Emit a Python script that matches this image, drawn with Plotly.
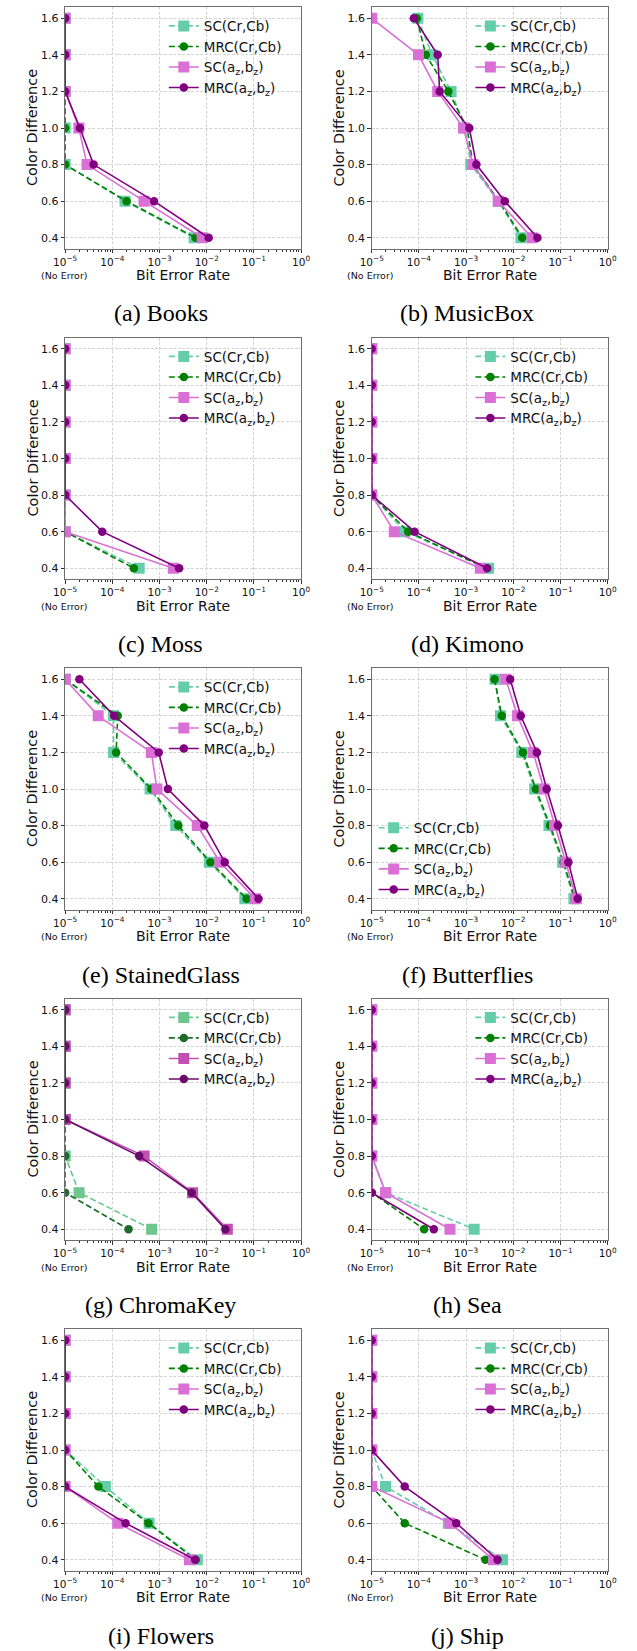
import plotly.graph_objects as go

# Colour difference levels (y values shared by every panel)
CDIFF = [1.6, 1.4, 1.2, 1.0, 0.8, 0.6, 0.4]

# Bit error rates, 1e-5 stands for "no error"
BOOKS_SC_CRCB = [1e-5, 1e-5, 1e-5, 1e-5, 1e-5, 1.85e-4, 5.4e-3]
BOOKS_MRC_CRCB = [1e-5, 1e-5, 1e-5, 1e-5, 1e-5, 2.0e-4, 5.8e-3]
BOOKS_SC_AZBZ = [1e-5, 1e-5, 1e-5, 1.95e-5, 2.9e-5, 4.7e-4, 8.0e-3]
BOOKS_MRC_AZBZ = [1e-5, 1e-5, 1e-5, 2.05e-5, 4.0e-5, 7.6e-4, 1.1e-2]

MUSICBOX_SC_CRCB = [9.5e-5, 1.9e-4, 4.8e-4, 9.5e-4, 1.25e-3, 4.8e-3, 1.45e-2]
MUSICBOX_MRC_CRCB = [9.0e-5, 1.4e-4, 4.2e-4, 1.05e-3, 1.4e-3, 5.0e-3, 1.55e-2]
MUSICBOX_SC_AZBZ = [1e-5, 9.8e-5, 2.5e-4, 8.8e-4, 1.4e-3, 4.8e-3, 2.5e-2]
MUSICBOX_MRC_AZBZ = [7.8e-5, 2.5e-4, 2.75e-4, 1.17e-3, 1.65e-3, 6.6e-3, 3.25e-2]

MOSS_SC_CRCB = [1e-5, 1e-5, 1e-5, 1e-5, 1e-5, 1e-5, 3.7e-4]
MOSS_MRC_CRCB = [1e-5, 1e-5, 1e-5, 1e-5, 1e-5, 1e-5, 2.85e-4]
MOSS_SC_AZBZ = [1e-5, 1e-5, 1e-5, 1e-5, 1e-5, 1e-5, 1.95e-3]
MOSS_MRC_AZBZ = [1e-5, 1e-5, 1e-5, 1e-5, 1e-5, 6.1e-5, 2.6e-3]

KIMONO_SC_CRCB = [1e-5, 1e-5, 1e-5, 1e-5, 1e-5, 5.0e-5, 3.0e-3]
KIMONO_MRC_CRCB = [1e-5, 1e-5, 1e-5, 1e-5, 1e-5, 5.9e-5, 2.6e-3]
KIMONO_SC_AZBZ = [1e-5, 1e-5, 1e-5, 1e-5, 1e-5, 3.0e-5, 2.0e-3]
KIMONO_MRC_AZBZ = [1e-5, 1e-5, 1e-5, 1e-5, 1e-5, 8.1e-5, 2.8e-3]

STAINED_SC_CRCB = [1e-5, 1.06e-4, 1.06e-4, 6.3e-4, 2.2e-3, 1.13e-2, 6.4e-2]
STAINED_MRC_CRCB = [1e-5, 1.3e-4, 1.2e-4, 6.7e-4, 2.5e-3, 1.2e-2, 7.0e-2]
STAINED_SC_AZBZ = [1e-5, 5.0e-5, 6.7e-4, 8.8e-4, 6.3e-3, 1.9e-2, 1.07e-1]
STAINED_MRC_AZBZ = [2.0e-5, 1.09e-4, 9.6e-4, 1.5e-3, 8.9e-3, 2.4e-2, 1.25e-1]

BUTTERFLIES_SC_CRCB = [4.1e-3, 5.35e-3, 1.51e-2, 2.83e-2, 5.7e-2, 1.11e-1, 1.92e-1]
BUTTERFLIES_MRC_CRCB = [4.0e-3, 5.7e-3, 1.6e-2, 3.0e-2, 6.0e-2, 1.16e-1, 2.0e-1]
BUTTERFLIES_SC_AZBZ = [6.9e-3, 1.23e-2, 2.62e-2, 4.5e-2, 7.5e-2, 1.3e-1, 2.15e-1]
BUTTERFLIES_MRC_AZBZ = [8.6e-3, 1.44e-2, 3.16e-2, 5.1e-2, 8.8e-2, 1.47e-1, 2.32e-1]

CHROMA_SC_CRCB = [1e-5, 1e-5, 1e-5, 1e-5, 1e-5, 1.97e-5, 6.8e-4]
CHROMA_MRC_CRCB = [1e-5, 1e-5, 1e-5, 1e-5, 1e-5, 1e-5, 2.2e-4]
CHROMA_SC_AZBZ = [1e-5, 1e-5, 1e-5, 1e-5, 4.7e-4, 5.0e-3, 2.73e-2]
CHROMA_MRC_AZBZ = [1e-5, 1e-5, 1e-5, 1e-5, 3.7e-4, 4.8e-3, 2.48e-2]

SEA_SC_CRCB = [1e-5, 1e-5, 1e-5, 1e-5, 1e-5, 2.0e-5, 1.48e-3]
SEA_MRC_CRCB = [1e-5, 1e-5, 1e-5, 1e-5, 1e-5, 1e-5, 1.29e-4]
SEA_SC_AZBZ = [1e-5, 1e-5, 1e-5, 1e-5, 1e-5, 1.96e-5, 4.55e-4]
SEA_MRC_AZBZ = [1e-5, 1e-5, 1e-5, 1e-5, 1e-5, 1e-5, 2.07e-4]

FLOWERS_SC_CRCB = [1e-5, 1e-5, 1e-5, 1e-5, 7.1e-5, 6.0e-4, 6.3e-3]
FLOWERS_MRC_CRCB = [1e-5, 1e-5, 1e-5, 1e-5, 5.05e-5, 5.8e-4, 5.8e-3]
FLOWERS_SC_AZBZ = [1e-5, 1e-5, 1e-5, 1e-5, 1e-5, 1.3e-4, 4.3e-3]
FLOWERS_MRC_AZBZ = [1e-5, 1e-5, 1e-5, 1e-5, 1e-5, 1.9e-4, 5.7e-3]

SHIP_SC_CRCB = [1e-5, 1e-5, 1e-5, 1e-5, 1.96e-5, 4.2e-4, 5.9e-3]
SHIP_MRC_CRCB = [1e-5, 1e-5, 1e-5, 1e-5, 1e-5, 5.0e-5, 2.56e-3]
SHIP_SC_AZBZ = [1e-5, 1e-5, 1e-5, 1e-5, 1e-5, 4.55e-4, 3.8e-3]
SHIP_MRC_AZBZ = [1e-5, 1e-5, 1e-5, 1e-5, 5.0e-5, 6.2e-4, 4.65e-3]

PANEL_LETTERS = ["a", "b", "c", "d", "e", "f", "g", "h", "i", "j"]
IMAGE_NAMES = ["Books", "MusicBox", "Moss", "Kimono", "StainedGlass",
               "Butterflies", "ChromaKey", "Sea", "Flowers", "Ship"]
PANEL_DATA = [
    (BOOKS_SC_CRCB, BOOKS_MRC_CRCB, BOOKS_SC_AZBZ, BOOKS_MRC_AZBZ),
    (MUSICBOX_SC_CRCB, MUSICBOX_MRC_CRCB, MUSICBOX_SC_AZBZ, MUSICBOX_MRC_AZBZ),
    (MOSS_SC_CRCB, MOSS_MRC_CRCB, MOSS_SC_AZBZ, MOSS_MRC_AZBZ),
    (KIMONO_SC_CRCB, KIMONO_MRC_CRCB, KIMONO_SC_AZBZ, KIMONO_MRC_AZBZ),
    (STAINED_SC_CRCB, STAINED_MRC_CRCB, STAINED_SC_AZBZ, STAINED_MRC_AZBZ),
    (BUTTERFLIES_SC_CRCB, BUTTERFLIES_MRC_CRCB, BUTTERFLIES_SC_AZBZ, BUTTERFLIES_MRC_AZBZ),
    (CHROMA_SC_CRCB, CHROMA_MRC_CRCB, CHROMA_SC_AZBZ, CHROMA_MRC_AZBZ),
    (SEA_SC_CRCB, SEA_MRC_CRCB, SEA_SC_AZBZ, SEA_MRC_AZBZ),
    (FLOWERS_SC_CRCB, FLOWERS_MRC_CRCB, FLOWERS_SC_AZBZ, FLOWERS_MRC_AZBZ),
    (SHIP_SC_CRCB, SHIP_MRC_CRCB, SHIP_SC_AZBZ, SHIP_MRC_AZBZ),
]

SERIES_NAMES = ["SC(Cr,Cb)", "MRC(Cr,Cb)",
                "SC(a<sub>z</sub>,b<sub>z</sub>)", "MRC(a<sub>z</sub>,b<sub>z</sub>)"]
X_TICK_VALS = [1e-5, 1e-4, 1e-3, 1e-2, 1e-1, 1e0]
X_TICK_TEXT = ["10<sup>\u22125</sup>", "10<sup>\u22124</sup>", "10<sup>\u22123</sup>",
               "10<sup>\u22122</sup>", "10<sup>\u22121</sup>", "10<sup>0</sup>"]
Y_TICK_TEXT = ["1.6", "1.4", "1.2", "1.0", "0.8", "0.6", "0.4"]

# styling
COLORS_DEFAULT = ["#66cdaa", "#008000", "#da70d6", "#800080"]
COLORS_CHROMA = ["#6cc68d", "#1b6b2b", "#c24fb2", "#6a0a6a"]
SYMBOLS = ["square", "circle", "square", "circle"]
MARKER_SIZES = [11, 8.5, 11, 8.5]
DASHES = ["6px,3px", "6px,3px", "solid", "solid"]

W, H = 637, 1651
COL_DX = 317.0
ROW_DY = 330.5
PLOT_L, PLOT_R = 55.0, 299.0
PLOT_T, PLOT_B = 7.3, 248.7

XTICK_FONT = dict(family="DejaVu Sans", size=10.5, color="#111111")
YTICK_FONT = dict(family="DejaVu Sans", size=11, color="#111111")
TITLE_FONT = "DejaVu Sans"

minor_vals = [m * 10.0 ** e for e in range(-5, 0) for m in range(2, 10)]

fig = go.Figure()
annotations = []
layout_updates = {}

for i in range(10):
    row, col = divmod(i, 2)
    ox, oy = col * COL_DX, row * ROW_DY
    idx = "" if i == 0 else str(i + 1)
    xa, ya = "x" + idx, "y" + idx
    leg = "legend" + idx
    colors = COLORS_CHROMA if IMAGE_NAMES[i] == "ChromaKey" else COLORS_DEFAULT

    for s in range(4):
        fig.add_trace(go.Scatter(
            x=PANEL_DATA[i][s], y=CDIFF, name=SERIES_NAMES[s],
            mode="lines+markers", xaxis=xa, yaxis=ya, legend=leg,
            line=dict(color=colors[s], width=1.6, dash=DASHES[s]),
            marker=dict(symbol=SYMBOLS[s], size=MARKER_SIZES[s], color=colors[s],
                        line=dict(width=0)),
            cliponaxis=True,
        ))

    layout_updates["xaxis" + idx] = dict(
        type="log", range=[-5, 0], domain=[(PLOT_L + ox) / W, (PLOT_R + ox) / W],
        anchor=ya, tickmode="array", tickvals=X_TICK_VALS, ticktext=X_TICK_TEXT,
        ticks="outside", ticklen=3.5, tickwidth=0.9, tickcolor="#333333",
        tickfont=XTICK_FONT, showline=True, mirror=True, linecolor="#6e6e6e",
        linewidth=1, showgrid=True, gridcolor="#d4d4d4", gridwidth=0.8,
        griddash="3px,1.5px", zeroline=False,
        minor=dict(tickmode="array", tickvals=minor_vals, ticks="outside",
                   ticklen=2, tickwidth=0.7, tickcolor="#333333", showgrid=False),
    )
    layout_updates["yaxis" + idx] = dict(
        range=[0.34, 1.66],
        domain=[1 - (PLOT_B + oy) / H, 1 - (PLOT_T + oy) / H],
        anchor=xa, tickmode="array", tickvals=CDIFF, ticktext=Y_TICK_TEXT,
        ticks="outside", ticklen=3.5, tickwidth=0.9, tickcolor="#333333",
        tickfont=YTICK_FONT, showline=True, mirror=True, linecolor="#6e6e6e",
        linewidth=1, showgrid=True, gridcolor="#d4d4d4", gridwidth=0.8,
        griddash="3px,1.5px", zeroline=False,
    )

    if IMAGE_NAMES[i] == "Butterflies":
        leg_x, leg_y = 374 - COL_DX + ox, 812.5 - 2 * ROW_DY + oy
    else:
        leg_x, leg_y = 157 + ox, 10.6 + oy
    layout_updates[leg] = dict(
        x=leg_x / W, y=1 - leg_y / H, xanchor="left", yanchor="top",
        bgcolor="rgba(0,0,0,0)", borderwidth=0,
        font=dict(family=TITLE_FONT, size=13.5, color="#111111"),
        tracegroupgap=0,
    )

    # axis titles, no-error note and panel caption
    annotations.append(dict(
        text="Color Difference", textangle=-90, x=(20.7 + ox) / W, y=1 - (128 + oy) / H,
        xref="paper", yref="paper", showarrow=False, xanchor="center", yanchor="middle",
        font=dict(family=TITLE_FONT, size=14.5, color="#111111")))
    annotations.append(dict(
        text="Bit Error Rate", x=(177 + ox) / W, y=1 - (275 + oy) / H,
        xref="paper", yref="paper", showarrow=False, xanchor="center", yanchor="middle",
        font=dict(family=TITLE_FONT, size=14, color="#111111")))
    annotations.append(dict(
        text="(No Error)", x=(54.2 + ox) / W, y=1 - (275.8 + oy) / H,
        xref="paper", yref="paper", showarrow=False, xanchor="center", yanchor="middle",
        font=dict(family=TITLE_FONT, size=9.5, color="#111111")))
    annotations.append(dict(
        text=f"({PANEL_LETTERS[i]}) {IMAGE_NAMES[i]}", x=(154 + ox) / W,
        y=1 - (313.5 + oy) / H, xref="paper", yref="paper", showarrow=False,
        xanchor="center", yanchor="middle",
        font=dict(family="Liberation Serif", size=24, color="#000000")))

fig.update_layout(
    width=W, height=H, margin=dict(l=0, r=0, t=0, b=0),
    paper_bgcolor="white", plot_bgcolor="white",
    annotations=annotations, **layout_updates,
)

fig.write_html("out.html")
